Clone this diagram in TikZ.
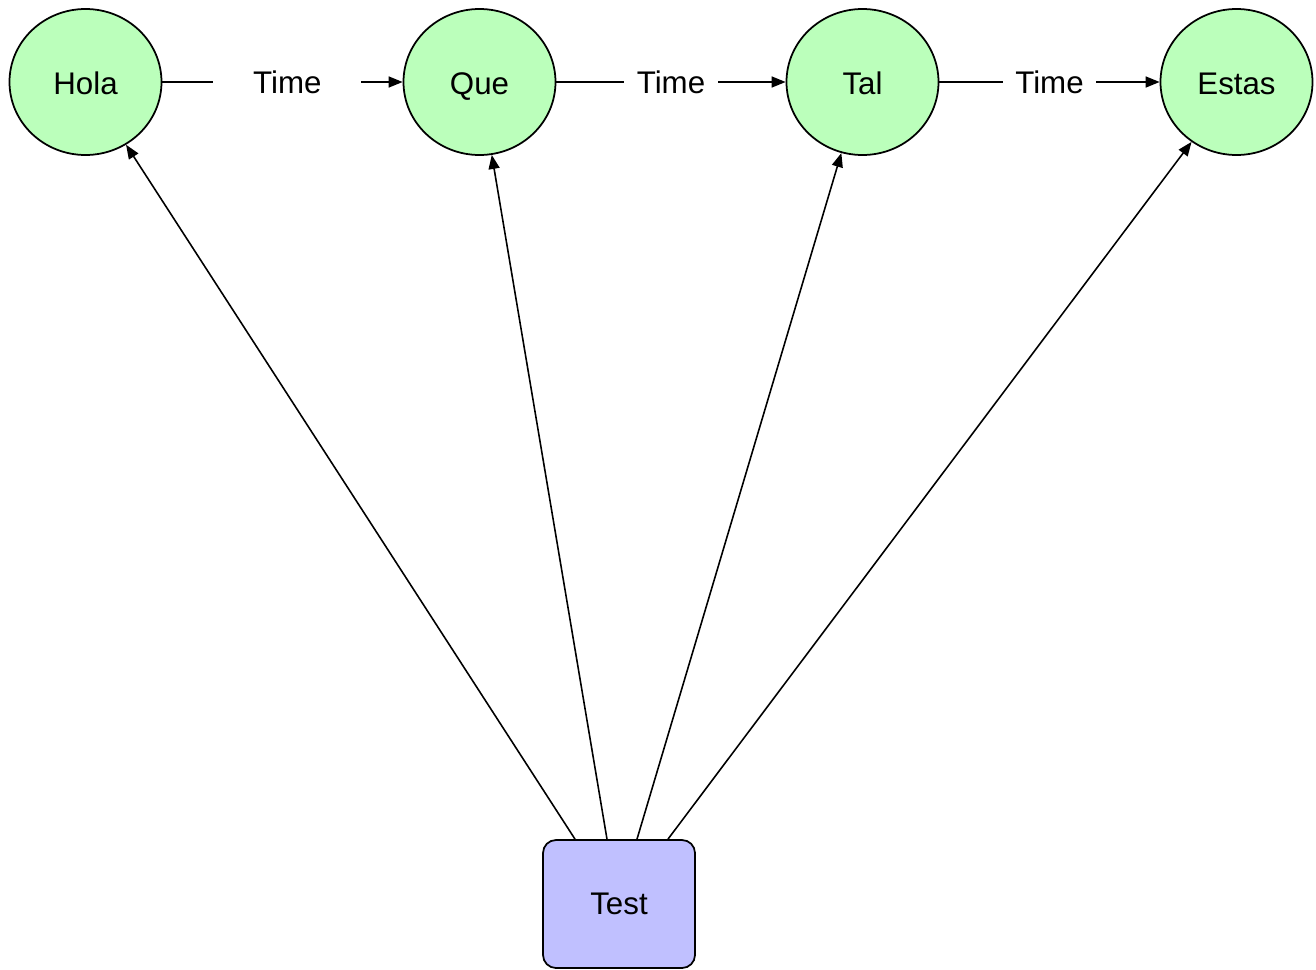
\documentclass[tikz,border=0pt]{standalone}
\usepackage{fontspec}
\setmainfont{Liberation Sans}
\usetikzlibrary{shapes.geometric,arrows.meta}
\definecolor{wordgreen}{RGB}{187,255,187}
\definecolor{testblue}{RGB}{192,192,255}
\begin{document}
\begin{tikzpicture}[
		every node/.style = {font=\fontsize{8.9}{10.5}\selectfont},
		word/.style = {ellipse, draw, line width=0.5pt, fill=wordgreen, minimum width=1.52cm, minimum height=1.46cm, inner sep=0pt, text height=1.6ex, text depth=0.3ex},
		testbox/.style = {rectangle, draw, line width=0.5pt, fill=testblue, rounded corners=0.13cm, minimum width=1.52cm, minimum height=1.28cm},
		link/.style = {line width=0.45pt, -{Triangle[length=1.4mm,width=1.1mm]}},
		timelabel/.style = {fill=white, inner ysep=1pt}]
		\useasboundingbox (0,0) rectangle (13.16,-9.70);
		% words in a row
		\node [word](hola) at (0.855,-0.82) {Hola};
		\node [word](que) at (4.795,-0.82) {Que};
		\node [word](tal) at (8.625,-0.82) {Tal};
		\node [word](estas) at (12.365,-0.82) {Estas};
		\node [testbox](test) at (6.19,-9.04) {Test};
		% time steps
		\draw [link] (hola) -- node [timelabel, pos=0.52, inner xsep=0.4cm] {Time} (que);
		\draw [link] (que) -- node [timelabel, inner xsep=0.13cm] {Time} (tal);
		\draw [link] (tal) -- node [timelabel, inner xsep=0.12cm] {Time} (estas);
		% from test up to every word
		\draw [link] ([xshift=-0.44cm]test.north) -- (hola);
		\draw [link] ([xshift=-0.12cm]test.north) -- (que);
		\draw [link] ([xshift=0.18cm]test.north) -- (tal);
		\draw [link] ([xshift=0.49cm]test.north) -- (estas);
\end{tikzpicture}
\end{document}
